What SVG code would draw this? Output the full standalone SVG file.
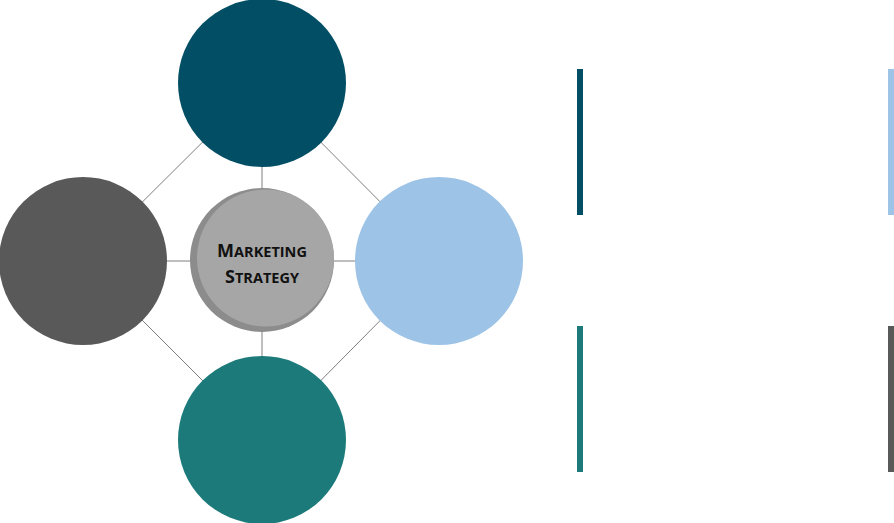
<svg xmlns="http://www.w3.org/2000/svg" width="894" height="523" viewBox="0 0 894 523">
<style>
.ln{stroke:#7f7f7f;stroke-width:1;fill:none}
.t{font-family:"Open Sans","Liberation Sans",sans-serif;font-weight:bold;fill:#111;text-anchor:middle}
.big{font-size:18px}
.sm{font-size:14.5px}
</style>
<rect width="894" height="523" fill="#fff"/>
<g id="connectors">
<path class="ln" d="M262 83L439 261L262 440L83 261Z"/>
<path class="ln" d="M262 83V440M83 261H439"/>
</g>
<g id="node-top"><circle cx="262" cy="83" r="84" fill="#024f65"/></g>
<g id="node-left"><circle cx="83" cy="261" r="84" fill="#595959"/></g>
<g id="node-right"><circle cx="439" cy="261" r="84" fill="#9dc3e6"/></g>
<g id="node-bottom"><circle cx="262" cy="440" r="84" fill="#1c7a7a"/></g>
<g id="node-center">
<circle cx="262" cy="260" r="72" fill="#8c8c8c"/>
<circle cx="265.5" cy="258" r="68.5" fill="#a6a6a6"/>
<text class="t" x="262" y="257"><tspan class="big">M</tspan><tspan class="sm">ARKETING</tspan></text>
<text class="t" x="262" y="283"><tspan class="big">S</tspan><tspan class="sm">TRATEGY</tspan></text>
</g>
<g id="bars">
<rect x="577" y="69" width="6" height="146" fill="#024f65"/>
<rect x="888" y="69" width="6" height="146" fill="#9dc3e6"/>
<rect x="577" y="326" width="6" height="146" fill="#1c7a7a"/>
<rect x="888" y="326" width="6" height="146" fill="#595959"/>
</g>
</svg>
